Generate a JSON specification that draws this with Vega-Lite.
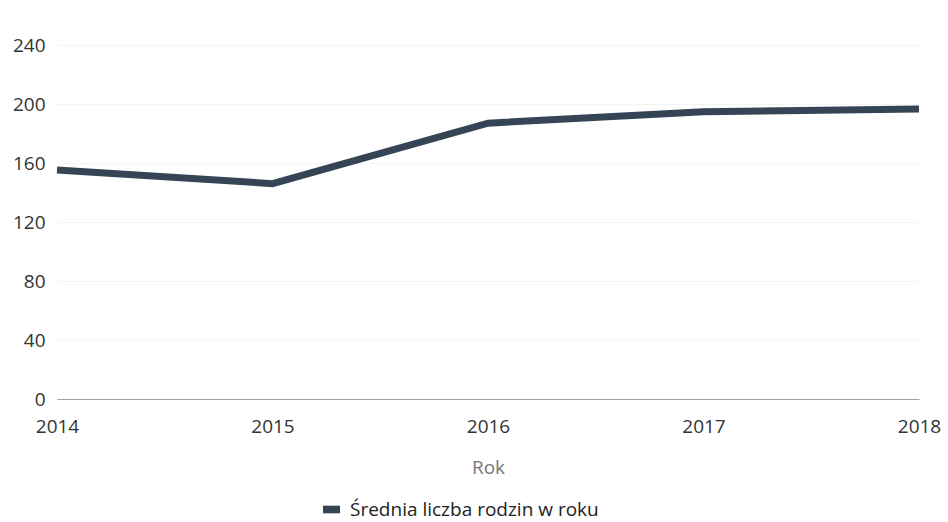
{
  "$schema": "https://vega.github.io/schema/vega-lite/v6.json",
  "autosize": "none",
  "width": 862,
  "height": 354,
  "padding": {"left": 57, "top": 45, "right": 29, "bottom": 123},
  "background": "white",
  "data": {
    "values": [
      {"Rok": "2014", "value": 155.3, "series": "Średnia liczba rodzin w roku"},
      {"Rok": "2015", "value": 146, "series": "Średnia liczba rodzin w roku"},
      {"Rok": "2016", "value": 187, "series": "Średnia liczba rodzin w roku"},
      {"Rok": "2017", "value": 194.8, "series": "Średnia liczba rodzin w roku"},
      {"Rok": "2018", "value": 196.6, "series": "Średnia liczba rodzin w roku"}
    ]
  },
  "config": {
    "view": {"stroke": null},
    "font": "Open Sans"
  },
  "mark": {"type": "line", "strokeWidth": 7, "strokeCap": "butt", "strokeJoin": "miter"},
  "encoding": {
    "x": {
      "field": "Rok",
      "type": "ordinal",
      "scale": {"type": "point", "padding": 0},
      "axis": {
        "title": "Rok",
        "titleFont": "Open Sans",
        "titleFontSize": 19,
        "titleFontWeight": "normal",
        "titleColor": "#777777",
        "titlePadding": 22,
        "labelAngle": 0,
        "labelFont": "Open Sans",
        "labelFontSize": 19,
        "labelColor": "#333333",
        "labelPadding": 18,
        "labelFlush": false,
        "labelOverlap": false,
        "ticks": false,
        "domain": true,
        "domainColor": "#a0a0a0",
        "domainWidth": 1,
        "grid": false
      }
    },
    "y": {
      "field": "value",
      "type": "quantitative",
      "scale": {"domain": [0, 240]},
      "axis": {
        "title": null,
        "values": [0, 40, 80, 120, 160, 200, 240],
        "labelFont": "Open Sans",
        "labelFontSize": 19,
        "labelColor": "#333333",
        "labelPadding": 12,
        "labelFlush": false,
        "ticks": false,
        "domain": false,
        "grid": true,
        "gridColor": "#f4f4f4",
        "gridWidth": 1
      }
    },
    "color": {
      "field": "series",
      "type": "nominal",
      "scale": {"range": ["#354556"]},
      "legend": {
        "title": null,
        "orient": "none",
        "legendX": 265,
        "legendY": 455,
        "symbolType": "M-1,-0.45H1V0.45H-1Z",
        "symbolFillColor": "#354556",
        "symbolStrokeWidth": 0,
        "symbolSize": 289,
        "labelFont": "Open Sans",
        "labelFontSize": 19,
        "labelColor": "#222222",
        "labelOffset": 9,
        "labelLimit": 0
      }
    }
  }
}
